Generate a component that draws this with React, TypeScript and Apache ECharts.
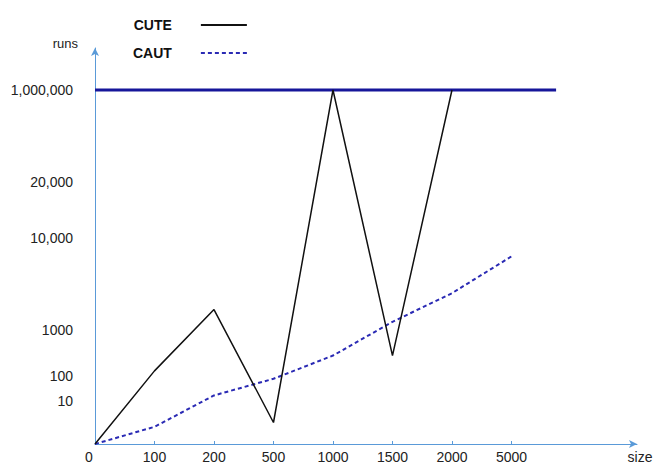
import React, { useEffect, useRef } from "react";
import * as echarts from "echarts";

const categories = ["0", "100", "200", "500", "1000", "1500", "2000", "5000"];
const cuteValues = [0, 200, 3000, 5, 1000000, 500, 1000000];
const cautValues = [0, 4, 30, 90, 500, 1800, 4600, 8200];
const yTickValues = [0, 10, 100, 1000, 10000, 20000, 1000000];
const yTickLabels = ["0", "10", "100", "1000", "10,000", "20,000", "1,000,000"];
const limitValue = 1000000;
const limitSpan = [0, 7.75];

// hand-drawn, non-uniform vertical scale: display height of each tick value
const yTickHeights = [0, 43, 68, 114, 206, 262, 354];
const toDisplay = (v: number) => {
  for (let i = 1; i < yTickValues.length; i++) {
    if (v <= yTickValues[i]) {
      const a = yTickValues[i - 1], b = yTickValues[i];
      const ha = yTickHeights[i - 1], hb = yTickHeights[i];
      return ha + ((v - a) / (b - a)) * (hb - ha);
    }
  }
  return yTickHeights[yTickHeights.length - 1];
};

const AXIS = "#5a9ad8";

export default function App() {
  const ref = useRef<HTMLDivElement>(null);
  useEffect(() => {
    if (!ref.current) return;
    const chart = echarts.init(ref.current, undefined, { renderer: "svg" });
    const font = "Liberation Sans, Arial, sans-serif";
    chart.setOption({
      animation: false,
      textStyle: { fontFamily: font },
      grid: { left: 95, right: 16, top: 48, bottom: 22, containLabel: false, outerBoundsMode: "none" },
      legend: {
        data: ["CUTE", "CAUT"],
        orient: "vertical",
        align: "right",
        left: 128,
        top: 13,
        itemWidth: 46,
        itemHeight: 14,
        itemGap: 14,
        itemStyle: { opacity: 0 },
        formatter: "{n|{name}}",
        textStyle: {
          color: "#111",
          rich: { n: { fontSize: 14, fontWeight: "bold", color: "#111", fontFamily: font, padding: [0, 24, 0, 0] } },
        },
      },
      xAxis: {
        type: "value",
        min: 0,
        max: 9.11,
        name: "size",
        nameLocation: "end",
        nameGap: 3,
        nameTextStyle: { fontSize: 14, color: "#222", align: "center", verticalAlign: "top", padding: [6, 0, 0, 0] },
        splitLine: { show: false },
        axisLine: { lineStyle: { color: AXIS, width: 1 }, symbol: ["none", "arrow"], symbolSize: [6, 8] },
        axisTick: { show: true, inside: true, length: 3, lineStyle: { color: AXIS }, customValues: [1, 2, 3, 4, 5, 6, 7] },
        axisLabel: {
          customValues: categories.map((_, i) => i),
          formatter: (v: number) => {
            const i = Math.round(v);
            return i === 0 ? "{z|" + categories[0] + "}" : categories[i];
          },
          fontSize: 14,
          color: "#222",
          margin: 6,
          rich: { z: { fontSize: 14, color: "#222", padding: [0, 12, 6, 0] } },
        },
      },
      yAxis: {
        type: "value",
        min: 0,
        max: 396,
        name: "runs",
        nameLocation: "end",
        nameGap: 5,
        nameTextStyle: { fontSize: 13, color: "#222", align: "right", verticalAlign: "middle", padding: [0, 17, 0, 0] },
        splitLine: { show: false },
        axisLine: { lineStyle: { color: AXIS, width: 1 }, symbol: ["none", "arrow"], symbolSize: [6, 8] },
        axisTick: { show: false },
        axisLabel: {
          customValues: yTickValues.slice(1).map(toDisplay),
          formatter: (v: number) => {
            const i = yTickHeights.findIndex((h) => Math.abs(h - v) < 0.5);
            return i >= 0 ? yTickLabels[i] : "";
          },
          fontSize: 14,
          color: "#222",
          margin: 22,
        },
      },
      series: [
        {
          name: "limit",
          type: "line",
          symbol: "none",
          silent: true,
          data: limitSpan.map((x) => [x, toDisplay(limitValue)]),
          lineStyle: { color: "#16169a", width: 3 },
          z: 1,
        },
        {
          name: "CUTE",
          type: "line",
          symbol: "none",
          data: cuteValues.map((v, i) => [i, toDisplay(v)]),
          lineStyle: { color: "#111", width: 1.5 },
          itemStyle: { color: "#111" },
          z: 3,
        },
        {
          name: "CAUT",
          type: "line",
          symbol: "none",
          data: cautValues.map((v, i) => [i, toDisplay(v)]),
          lineStyle: { color: "#2a2ab4", width: 2, type: [4, 3] },
          itemStyle: { color: "#2a2ab4" },
          z: 2,
        },
      ],
    });
    return () => chart.dispose();
  }, []);
  return <div ref={ref} style={{ width: 653, height: 466, position: "absolute", left: 0, top: 0 }} />;
}
